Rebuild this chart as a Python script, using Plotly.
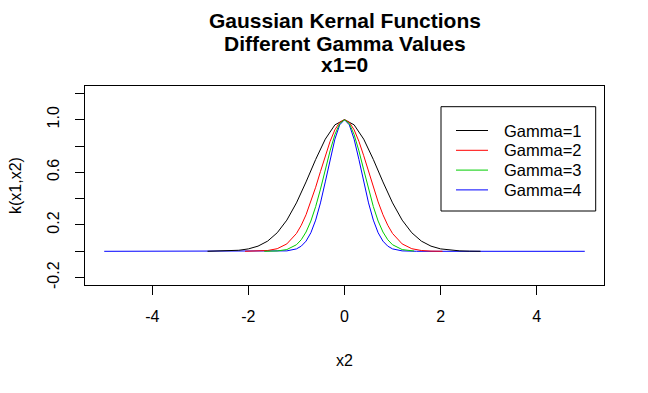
import plotly.graph_objects as go

# ---- data ----
x_g1 = [-2.85, -2.6, -2.4, -2.2, -2.0, -1.8, -1.6, -1.4, -1.2, -1.0, -0.8, -0.6, -0.4, -0.2, 0.0,
        0.2, 0.4, 0.6, 0.8, 1.0, 1.2, 1.4, 1.6, 1.8, 2.0, 2.2, 2.4, 2.6, 2.83]
k_g1 = [0.0003, 0.0012, 0.0032, 0.0079, 0.0183, 0.0392, 0.0773, 0.1409, 0.2369, 0.3679, 0.5273, 0.6977, 0.8521, 0.9608, 1.0,
        0.9608, 0.8521, 0.6977, 0.5273, 0.3679, 0.2369, 0.1409, 0.0773, 0.0392, 0.0183, 0.0079, 0.0032, 0.0012, 0.0003]

x_g2 = [-2.07, -1.8, -1.6, -1.4, -1.2, -1.0, -0.9, -0.8, -0.7, -0.6, -0.5, -0.4, -0.3, -0.2, -0.1, 0.0,
        0.1, 0.2, 0.3, 0.4, 0.5, 0.6, 0.7, 0.8, 0.9, 1.0, 1.2, 1.4, 1.6, 1.8, 2.04]
k_g2 = [0.0002, 0.0015, 0.0060, 0.0198, 0.0561, 0.1353, 0.1979, 0.2780, 0.3753, 0.4868, 0.6065, 0.7261, 0.8353, 0.9231, 0.9802, 1.0,
        0.9802, 0.9231, 0.8353, 0.7261, 0.6065, 0.4868, 0.3753, 0.2780, 0.1979, 0.1353, 0.0561, 0.0198, 0.0060, 0.0015, 0.0002]

x_g3 = [-1.67, -1.4, -1.2, -1.0, -0.9, -0.8, -0.7, -0.6, -0.5, -0.4, -0.3, -0.2, -0.1, 0.0,
        0.1, 0.2, 0.3, 0.4, 0.5, 0.6, 0.7, 0.8, 0.9, 1.0, 1.2, 1.45]
k_g3 = [0.0002, 0.0028, 0.0133, 0.0498, 0.0880, 0.1466, 0.2299, 0.3396, 0.4724, 0.6188, 0.7634, 0.8869, 0.9704, 1.0,
        0.9704, 0.8869, 0.7634, 0.6188, 0.4724, 0.3396, 0.2299, 0.1466, 0.0880, 0.0498, 0.0133, 0.0018]

x_g4 = [-5.0, -3.0, -2.0, -1.5, -1.2, -1.0, -0.9, -0.8, -0.7, -0.6, -0.5, -0.4, -0.3, -0.2, -0.1, 0.0,
        0.1, 0.2, 0.3, 0.4, 0.5, 0.6, 0.7, 0.8, 0.9, 1.0, 1.2, 1.5, 2.0, 3.0, 5.0]
k_g4 = [0.0, 0.0, 0.0, 0.0001, 0.0032, 0.0183, 0.0392, 0.0773, 0.1409, 0.2369, 0.3679, 0.5273, 0.6977, 0.8521, 0.9608, 1.0,
        0.9608, 0.8521, 0.6977, 0.5273, 0.3679, 0.2369, 0.1409, 0.0773, 0.0392, 0.0183, 0.0032, 0.0001, 0.0, 0.0, 0.0]

series_names = ["Gamma=1", "Gamma=2", "Gamma=3", "Gamma=4"]
series_colors = ["#000000", "#FF0000", "#00CD00", "#0000FF"]

x_ticks = [-4, -2, 0, 2, 4]
x_ticktext = ["-4", "-2", "0", "2", "4"]
y_ticks = [-0.2, 0.0, 0.2, 0.4, 0.6, 0.8, 1.0, 1.2]
y_ticktext = ["-0.2", "", "0.2", "", "0.6", "", "1.0", ""]

title_lines = ["Gaussian Kernal Functions", "Different Gamma Values", "x1=0"]

FONT = "Liberation Sans, Arial, sans-serif"

# plot area in screen pixels; the page body adds an 8px offset
OFF = 8
L, R, T, B = 85, 604, 86, 285
W, H = 648, 393


def px(x):
    return (x - L) / (R - L)


def py(y):
    return (B - y) / (B - T)


fig = go.Figure()
data = [(x_g1, k_g1), (x_g2, k_g2), (x_g3, k_g3), (x_g4, k_g4)]
order = [3, 0, 1, 2]
for i in order:
    xs, ys = data[i]
    fig.add_trace(go.Scatter(x=xs, y=ys, mode="lines", name=series_names[i],
                             line=dict(color=series_colors[i], width=1)))

axis_common = dict(showgrid=False, zeroline=False, showline=True, mirror=True,
                   linecolor="black", linewidth=1, ticks="outside", ticklen=9,
                   tickcolor="black", tickwidth=1,
                   tickfont=dict(family=FONT, size=16, color="black"))

fig.update_xaxes(range=[-5.4, 5.4], tickvals=x_ticks, ticktext=x_ticktext,
                 ticklabelstandoff=8, **axis_common)
fig.update_yaxes(range=[-0.256, 1.256], tickvals=y_ticks, ticktext=y_ticktext,
                 tickangle=-90, ticklabelstandoff=10, **axis_common)

annotations = []
title_y = [20.5, 43.0, 64.5]
for txt, yy in zip(title_lines, title_y):
    annotations.append(dict(text="<b>%s</b>" % txt, x=px(344.5), y=py(yy), xref="paper", yref="paper",
                            xanchor="center", yanchor="middle", showarrow=False,
                            font=dict(family=FONT, size=21, color="black")))

annotations.append(dict(text="x2", x=px(344.5), y=py(360), xref="paper", yref="paper",
                        xanchor="center", yanchor="middle", showarrow=False,
                        font=dict(family=FONT, size=16, color="black")))
annotations.append(dict(text="k(x1,x2)", x=px(15), y=py(186), xref="paper", yref="paper",
                        xanchor="center", yanchor="middle", showarrow=False, textangle=-90,
                        font=dict(family=FONT, size=16, color="black")))

shapes = [dict(type="rect", xref="paper", yref="paper", x0=px(441), x1=px(595.7), y0=py(211), y1=py(106.7),
               line=dict(color="black", width=1), fillcolor="white", layer="above")]
for i, (nm, col) in enumerate(zip(series_names, series_colors)):
    yy = 130.5 + 19.8 * i
    shapes.append(dict(type="line", xref="paper", yref="paper", x0=px(456), x1=px(488), y0=py(yy), y1=py(yy),
                       line=dict(color=col, width=1), layer="above"))
    annotations.append(dict(text=nm, x=px(502), y=py(yy), xref="paper", yref="paper",
                            xanchor="left", yanchor="middle", showarrow=False,
                            font=dict(family=FONT, size=16.5, color="black")))

fig.update_layout(width=W, height=H,
                  margin=dict(l=L - OFF, r=W - R + OFF, t=T - OFF, b=H - B + OFF, pad=0),
                  plot_bgcolor="white", paper_bgcolor="white", showlegend=False,
                  annotations=annotations, shapes=shapes, font=dict(family=FONT))

fig.write_html("out.html")
